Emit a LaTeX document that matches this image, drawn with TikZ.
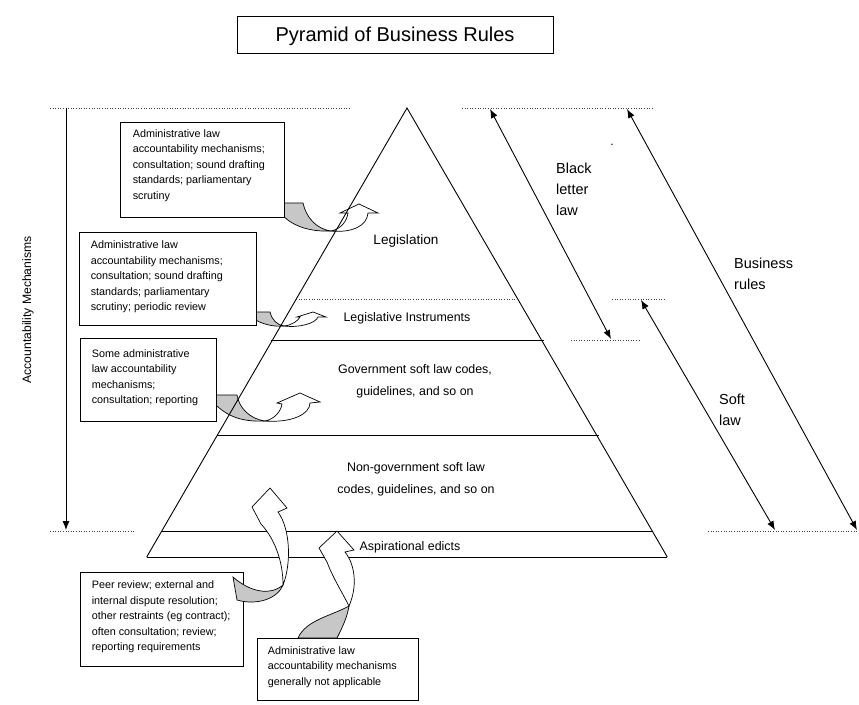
\documentclass[tikz,border=0pt]{standalone}
\usepackage{fontspec}
\setmainfont{Liberation Sans}
\usetikzlibrary{arrows.meta}
\begin{document}
\begin{tikzpicture}[x=1pt,y=-1pt,
  boxnode/.style={draw, line width=0.8pt, fill=white, inner sep=0pt},
  boxtxt/.style={font=\fontsize{10.8}{15.5}\selectfont, align=left, inner sep=0pt, anchor=west},
  pyrtxt/.style={font=\fontsize{12.4}{22}\selectfont, align=center, inner sep=0pt},
  lbl/.style={font=\fontsize{14.5}{21}\selectfont, align=left, inner sep=0pt, anchor=west},
  dots/.style={dotted, line width=0.6pt, black!75},
  pyr/.style={line width=0.9pt},
  dbl/.style={line width=0.9pt, {Latex[length=9pt,width=7pt]}-{Latex[length=9pt,width=7pt]}},
  sgl/.style={line width=0.9pt, -{Latex[length=9pt,width=7pt]}},
  backface/.style={fill=black!22, draw, line width=0.7pt},
  frontface/.style={fill=white, draw, line width=0.7pt}]
\useasboundingbox (0,0) rectangle (859,704);

% ---------- title ----------
\node[boxnode, minimum width=316pt, minimum height=37pt] (title) at (395,35) {};
\node[font=\fontsize{20}{22}\selectfont, inner sep=0pt] (titlet) at (395,36) {Pyramid of Business Rules};

% ---------- pyramid coordinates ----------
\coordinate (apex) at (407,108);
\coordinate (bl) at (146.7,557);
\coordinate (br) at (667.3,557);

% ---------- curved arrows 1-3 (behind boxes) ----------
\path[backface] (272,203) -- (303,203) .. controls (306,217) and (316,229) .. (331,231)
  .. controls (310,232) and (290,226) .. (280,212) -- cycle;
\path[frontface] (331,231) .. controls (341,229) and (347,221) .. (348,213) -- (340,213) -- (359,204)
  -- (378,213) -- (368,213) .. controls (367,226) and (352,233) .. (331,231) -- cycle;

\path[backface] (245,312) -- (270,312) .. controls (272,320) and (277,325) .. (284,326)
  .. controls (272,327) and (262,324) .. (252,318) -- cycle;
\path[frontface] (284,326) .. controls (292,325) and (298,321) .. (300,317) -- (297,317) -- (313,312)
  -- (326,317) -- (318,317) .. controls (316,323) and (300,328) .. (284,326) -- cycle;

\path[backface] (205,395) -- (237,395) .. controls (239,408) and (250,419) .. (265,421)
  .. controls (245,422) and (228,418) .. (214,403) -- cycle;
\path[frontface] (265,421) .. controls (275,419) and (281,411) .. (282,404) -- (277,403) -- (300,393)
  -- (320,402) -- (310,403) .. controls (310,414) and (292,423) .. (265,421) -- cycle;

% ---------- pyramid ----------
\draw[pyr] (bl) -- (apex) -- (br);
\draw[dots] (296,299) coordinate (d1a) -- (517,299) coordinate (d1b);
\draw[pyr] (270.5,340) coordinate (l2a) -- (544,340) coordinate (l2b);
\draw[pyr] (217,435) coordinate (l3a) -- (599,435) coordinate (l3b);
\draw[pyr] (161.5,531) coordinate (l4a) -- (653.3,531) coordinate (l4b);
\draw[pyr] (bl) -- (br);

\node[pyrtxt, font=\fontsize{13.6}{22}\selectfont] (leg) at (406,241) {Legislation};
\node[pyrtxt] (legi) at (407,318) {Legislative Instruments};
\node[pyrtxt] (gov) at (415,381) {Government soft law codes,\\guidelines, and so on};
\node[pyrtxt] (ngov) at (416,479) {Non-government soft law\\codes, guidelines, and so on};
\node[pyrtxt] (asp) at (410,547) {Aspirational edicts};

% ---------- boxes on the left ----------
\node[boxnode, minimum width=164pt, minimum height=95pt] (b1) at (202,169.5) {};
\node[boxtxt] (b1t) at ([xshift=13pt,yshift=4pt]b1.west) {Administrative law\\accountability mechanisms;\\consultation; sound drafting\\standards; parliamentary\\scrutiny};
\node[boxnode, minimum width=177pt, minimum height=93pt] (b2) at (167.5,278.5) {};
\node[boxtxt] (b2t) at ([xshift=12pt,yshift=1.5pt]b2.west) {Administrative law\\accountability mechanisms;\\consultation; sound drafting\\standards; parliamentary\\scrutiny; periodic review};
\node[boxnode, minimum width=136pt, minimum height=83pt] (b3) at (148,379.5) {};
\node[boxtxt] (b3t) at ([xshift=12pt,yshift=2pt]b3.west) {Some administrative\\law accountability\\mechanisms;\\consultation; reporting};

\node[boxnode, minimum width=163pt, minimum height=94pt] (b4) at (161.5,619) {};
\node[boxtxt] (b4t) at ([xshift=12pt,yshift=2pt]b4.west) {Peer review; external and\\internal dispute resolution;\\other restraints (eg contract);\\often consultation; review;\\reporting requirements};
\node[boxnode, minimum width=161pt, minimum height=62pt] (b5) at (337.5,669) {};
\node[boxtxt] (b5t) at ([xshift=11pt,yshift=2pt]b5.west) {Administrative law\\accountability mechanisms\\generally not applicable};

% ---------- bottom curved arrows ----------
\path[backface] (283,585) .. controls (270,596) and (250,592) .. (233,577) -- (237,600)
  .. controls (258,606) and (278,598) .. (283,585) -- cycle;
\path[frontface] (261,524) .. controls (274,538) and (283,560) .. (283,585)
  .. controls (291,565) and (291,530) .. (278,512) -- (287,508) -- (270,488) -- (252,507) -- cycle;

\path[backface] (349,606) .. controls (331,616) and (306,620) .. (298,638) -- (337,638)
  .. controls (342,628) and (347,618) .. (349,606) -- cycle;
\path[frontface] (327,562) .. controls (333,578) and (342,592) .. (349,606)
  .. controls (357,588) and (356,566) .. (345,552) -- (354,550) -- (337,531) -- (319,548) -- cycle;

% ---------- left accountability arrow ----------
\draw[dots] (50,108) coordinate (tl1) -- (351,108) coordinate (tl2);
\draw[dots] (50,531) coordinate (bl1) -- (134,531) coordinate (bl2);
\coordinate (am1) at (66,108);
\coordinate (am2) at (66,530);
\draw[sgl] (am1) -- (am2);
\node[font=\fontsize{12.2}{14}\selectfont, rotate=90, inner sep=0pt] (amt) at (28,310) {Accountability Mechanisms};

% ---------- right side ----------
\draw[dots] (462,108) coordinate (tr1) -- (653,108) coordinate (tr2);
\draw[dots] (571,340) coordinate (m1) -- (639,340) coordinate (m2);
\draw[dots] (612,299) coordinate (s1) -- (666,299) coordinate (s2);
\draw[dots] (708,531) coordinate (r1) -- (859,531) coordinate (r2);

\coordinate (blA) at (490,109);
\coordinate (blB) at (611,339);
\coordinate (brA) at (627,109);
\coordinate (brB) at (857,530);
\coordinate (slA) at (641,300);
\coordinate (slB) at (775,530);
\draw[dbl] (blA) -- (blB);
\draw[dbl] (brA) -- (brB);
\draw[dbl] (slA) -- (slB);

\node[lbl] (blt) at (556,189) {Black\\letter\\law};
\node[lbl] (brt) at (734,273.5) {Business\\rules};
\node[lbl] (slt) at (719,409.5) {Soft\\law};
\node[font=\fontsize{12}{14}\selectfont, inner sep=0pt] (dot) at (612,145) {.};
\end{tikzpicture}
\end{document}
